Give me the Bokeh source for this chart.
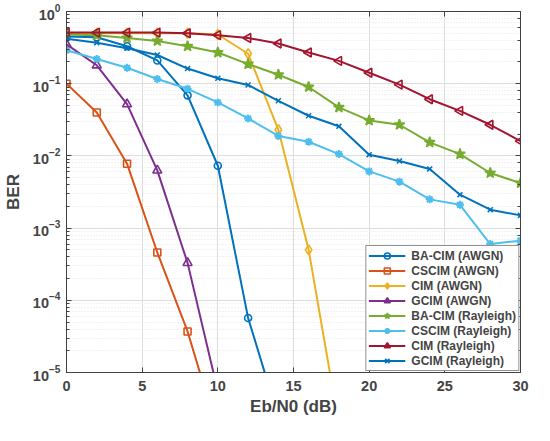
import math
from bokeh.plotting import figure
from bokeh.models import (LogAxis, LinearAxis, Legend, LegendItem, FixedTicker,
                          CustomJSTickFormatter)
from bokeh.embed import file_html
from bokeh.resources import INLINE

snr = [0, 2, 4, 6, 8, 10, 12, 14, 16, 18, 20, 22, 24, 26, 28, 30]

ba_awgn = [0.45, 0.44, 0.33, 0.21, 0.069, 0.0073, 5.7e-5, 2.4e-6]
cs_awgn = [0.10, 0.040, 0.0078, 4.6e-4, 3.7e-5, 1.5e-6]
cim_awgn = [0.5, 0.5, 0.5, 0.5, 0.5, 0.48, 0.26, 0.023, 5.0e-4, 1.9e-6]
g_awgn = [0.35, 0.18, 0.052, 0.0063, 3.3e-4, 5.5e-6]
ba_ray = [0.48, 0.47, 0.43, 0.39, 0.33, 0.27, 0.187, 0.133, 0.090, 0.047,
          0.031, 0.027, 0.0154, 0.0106, 0.0058, 0.0042]
cs_ray = [0.29, 0.22, 0.166, 0.116, 0.085, 0.055, 0.033, 0.0189, 0.0157,
          0.0106, 0.0061, 0.0044, 0.0025, 0.0021, 6.0e-4, 6.7e-4]
cim_ray = [0.51, 0.51, 0.51, 0.51, 0.50, 0.47, 0.43, 0.36, 0.27, 0.207,
           0.142, 0.097, 0.061, 0.042, 0.027, 0.016]
g_ray = [0.42, 0.37, 0.31, 0.25, 0.162, 0.119, 0.096, 0.058, 0.036, 0.0257,
         0.0104, 0.0085, 0.0066, 0.0029, 0.0018, 0.0015]

x_ticks = [0, 5, 10, 15, 20, 25, 30]

series = [
    ("BA-CIM (AWGN)", ba_awgn, "#0072BD", "circle", 0.0, 7, False),
    ("CSCIM (AWGN)", cs_awgn, "#D95319", "square", 0.0, 7, False),
    ("CIM (AWGN)", cim_awgn, "#EDB120", "diamond", 0.0, 10, False),
    ("GCIM (AWGN)", g_awgn, "#7E2F8E", "triangle", 0.0, 9, False),
    ("BA-CIM (Rayleigh)", ba_ray, "#77AC30", "star", 0.0, 11, True),
    ("CSCIM (Rayleigh)", cs_ray, "#4DBEEE", "asterisk", 0.0, 8, True),
    ("CIM (Rayleigh)", cim_ray, "#A2142F", "triangle", math.pi / 2, 9, False),
    ("GCIM (Rayleigh)", g_ray, "#0072BD", "x", 0.0, 7, False),
]

FONT = "Liberation Sans"

p = figure(width=534, height=425, x_range=(0, 30), y_range=(1e-5, 1),
           y_axis_type="log", output_backend="svg", toolbar_location=None,
           min_border_left=61, min_border_top=11, min_border_right=14,
           min_border_bottom=53)

items = []
for name, ys, color, marker, ang, size, filled in series:
    xs = snr[:len(ys)]
    r1 = p.line(xs, ys, line_color=color, line_width=2)
    r2 = p.scatter(xs, ys, marker=marker, angle=ang, size=size,
                   line_color=color, line_width=2 if marker == "asterisk" else 1.6,
                   fill_color=color if filled else None)
    items.append(LegendItem(label=name, renderers=[r1, r2]))

legend = Legend(items=items, location="bottom_right")
legend.margin = 1
legend.padding = 2
legend.spacing = 0
legend.label_height = 15
legend.glyph_height = 15
legend.glyph_width = 37
legend.label_standoff = 6
legend.label_text_font = FONT
legend.label_text_font_style = "bold"
legend.label_text_font_size = "12px"
legend.border_line_color = "#262626"
legend.border_line_width = 1
legend.background_fill_alpha = 1
p.add_layout(legend)

p.xaxis.ticker = FixedTicker(ticks=x_ticks)
p.xaxis.axis_label = "Eb/N0 (dB)"
p.yaxis.axis_label = "BER"
for ax in (p.xaxis[0], p.yaxis[0]):
    ax.axis_label_text_font = FONT
    ax.axis_label_text_font_style = "bold"
    ax.axis_label_text_font_size = "17px"
    ax.major_label_text_font = FONT
    ax.major_label_text_font_style = "bold"
    ax.major_label_text_font_size = "14.5px"
    ax.major_tick_in = 5
    ax.major_tick_out = 0
    ax.minor_tick_in = 3
    ax.minor_tick_out = 0
    ax.axis_line_color = "#404040"
    ax.major_tick_line_color = "#404040"
    ax.minor_tick_line_color = "#404040"
p.xaxis.minor_tick_line_color = None
p.xaxis.major_label_standoff = 8
p.xaxis.axis_label_standoff = 3
p.yaxis.major_label_standoff = 6
p.yaxis.axis_label_standoff = 7

top = LinearAxis(ticker=FixedTicker(ticks=x_ticks),
                 formatter=CustomJSTickFormatter(code="return '';"),
                 major_label_standoff=0, major_label_text_font_size="1px",
                 axis_label_standoff=0, major_tick_in=5, major_tick_out=0,
                 axis_line_color="#404040", major_tick_line_color="#404040",
                 minor_tick_line_color=None)
p.add_layout(top, "above")
right = LogAxis(formatter=CustomJSTickFormatter(code="return '';"),
                major_label_standoff=0, major_label_text_font_size="1px",
                axis_label_standoff=0,
                major_tick_in=5, major_tick_out=0, minor_tick_in=3, minor_tick_out=0,
                axis_line_color="#404040", major_tick_line_color="#404040",
                minor_tick_line_color="#404040")
p.add_layout(right, "right")

p.xgrid.grid_line_color = "#dddddd"
p.ygrid.grid_line_color = "#dddddd"
p.ygrid.minor_grid_line_color = "#e4e4e4"
p.ygrid.minor_grid_line_dash = "1 2"
p.outline_line_color = "#404040"

open("out.html", "w").write(file_html(p, INLINE))
